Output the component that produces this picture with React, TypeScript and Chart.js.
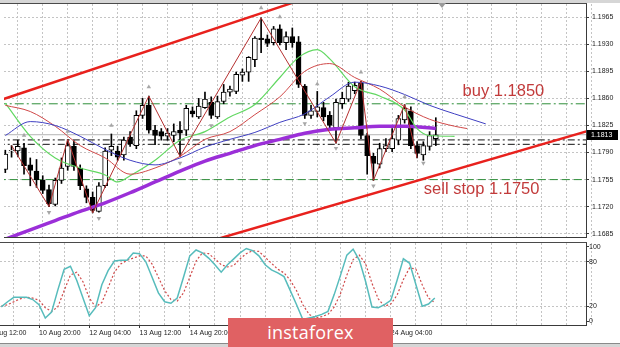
import React, { useEffect, useRef } from "react";
import { Chart, registerables } from "chart.js";

Chart.register(...registerables);

// ---------------- data (EURUSD H4) ----------------
const CANDLE_OPEN = [1.1768,1.1792,1.1792,1.1796,1.1774,1.1766,1.1754,1.1742,1.1723,1.1754,1.1772,1.1798,1.1770,1.1743,1.1732,1.1714,1.1747,1.1793,1.1792,1.1787,1.1810,1.1799,1.1838,1.1851,1.1819,1.1817,1.1811,1.1812,1.1819,1.1819,1.1844,1.1836,1.1848,1.1855,1.1836,1.1856,1.1868,1.1869,1.1890,1.1894,1.1910,1.1938,1.1937,1.1932,1.1950,1.1932,1.1940,1.1933,1.1876,1.1838,1.1843,1.1848,1.1838,1.1822,1.1853,1.1859,1.1870,1.1880,1.1812,1.1785,1.1775,1.1795,1.1795,1.1806,1.1832,1.1844,1.1799,1.1787,1.1798,1.1808];
const CANDLE_HIGH = [1.1793,1.1799,1.1806,1.1802,1.1783,1.1781,1.1760,1.1748,1.1757,1.1783,1.1807,1.1805,1.1774,1.1747,1.1739,1.1751,1.1796,1.1814,1.1798,1.1810,1.1817,1.1844,1.1860,1.1863,1.1825,1.1821,1.1821,1.1827,1.1830,1.1851,1.1849,1.1860,1.1868,1.1862,1.1863,1.1878,1.1876,1.1894,1.1898,1.1914,1.1940,1.1964,1.1942,1.1953,1.1955,1.1946,1.1951,1.1940,1.1878,1.1851,1.1869,1.1855,1.1843,1.1859,1.1868,1.1881,1.1881,1.1882,1.1815,1.1789,1.1802,1.1808,1.1821,1.1838,1.1852,1.1849,1.1804,1.1804,1.1817,1.1835];
const CANDLE_LOW = [1.1764,1.1784,1.1785,1.1762,1.1747,1.1745,1.1737,1.1720,1.1721,1.1750,1.1767,1.1767,1.1742,1.1725,1.1712,1.1713,1.1745,1.1786,1.1780,1.1780,1.1798,1.1795,1.1834,1.1815,1.1800,1.1806,1.1806,1.1804,1.1785,1.1812,1.1836,1.1834,1.1847,1.1834,1.1834,1.1853,1.1863,1.1866,1.1882,1.1882,1.1901,1.1919,1.1927,1.1929,1.1929,1.1923,1.1926,1.1874,1.1834,1.1834,1.1836,1.1831,1.1820,1.1802,1.1847,1.1856,1.1866,1.1808,1.1762,1.1754,1.1770,1.1791,1.1791,1.1800,1.1828,1.1795,1.1783,1.1780,1.1793,1.1799];
const CANDLE_CLOSE = [1.1788,1.1793,1.1798,1.1773,1.1767,1.1755,1.1741,1.1724,1.1754,1.1770,1.1799,1.1772,1.1747,1.1732,1.1715,1.1747,1.1792,1.1798,1.1784,1.1806,1.1801,1.1838,1.1851,1.1819,1.1812,1.1811,1.1815,1.1817,1.1815,1.1847,1.1840,1.1850,1.1859,1.1838,1.1856,1.1868,1.1872,1.1891,1.1894,1.1913,1.1938,1.1936,1.1931,1.1950,1.1932,1.1940,1.1932,1.1878,1.1838,1.1844,1.1849,1.1836,1.1825,1.1855,1.1860,1.1876,1.1877,1.1812,1.1786,1.1776,1.1795,1.1799,1.1808,1.1834,1.1847,1.1799,1.1789,1.1799,1.1812,1.1813];

// moving averages (bar index, price)
const MA_SLOW_IDX = [0,4,8,12,16,20,24,28,32,36,40,44,48,52,56,60,64,69];
const MA_SLOW_VAL = [1.1678,1.1690,1.1702,1.1714,1.1725,1.1738,1.1752,1.1766,1.1779,1.1789,1.1799,1.1807,1.1815,1.1820,1.1822,1.1824,1.1824,1.1821];
const JAW_IDX = [0,4,8,12,16,20,24,28,32,36,40,44,48,52,56,60,64,68,72,77];
const JAW_VAL = [1.1812,1.1830,1.1825,1.1811,1.1794,1.1780,1.1774,1.1783,1.1797,1.1807,1.1816,1.1829,1.1840,1.1862,1.1881,1.1876,1.1865,1.1851,1.1840,1.1827];
const TEETH_IDX = [0,4,8,12,16,20,24,28,32,36,40,44,48,52,56,60,64,68,72,74];
const TEETH_VAL = [1.1851,1.1843,1.1824,1.1799,1.1783,1.1762,1.1770,1.1785,1.1807,1.1817,1.1839,1.1862,1.1895,1.1905,1.1887,1.1872,1.1849,1.1833,1.1824,1.1821];
const LIPS_IDX = [0,4,8,12,16,18,20,24,28,32,36,40,44,47,50,52,56,60,64,66,68,72];
const LIPS_VAL = [1.1854,1.1811,1.1783,1.1770,1.1761,1.1752,1.1760,1.1780,1.1806,1.1817,1.1836,1.1852,1.1887,1.1913,1.1923,1.1911,1.1875,1.1863,1.1845,1.1821,1.1812,1.1811];

// zigzag
const ZIGZAG_IDX = [1,7,10,14,23,28,41,53,57,59,64,66];
const ZIGZAG_VAL = [1.1799,1.1720,1.1807,1.1712,1.1863,1.1785,1.1964,1.1802,1.1882,1.1754,1.1852,1.1783];

// fractals
const FRACTAL_UP_IDX = [3,10,17,23,41,44,50,57,64];
const FRACTAL_UP_VAL = [1.18121,1.18172,1.18249,1.18747,1.19769,1.19654,1.18785,1.18939,1.18619];
const FRACTAL_DN_IDX = [7,15,28,33,48,53,59,67];
const FRACTAL_DN_VAL = [1.17126,1.17049,1.17764,1.18249,1.18275,1.17955,1.17470,1.17764];

// channel lines
const CHANNEL_UP_IDX = [-1, 46];
const CHANNEL_UP_VAL = [1.18573, 1.19834];
const CHANNEL_DN_IDX = [34, 94];
const CHANNEL_DN_VAL = [1.16783, 1.18194];

// horizontal levels
const LEVEL_BUY = 1.1853;
const LEVEL_SELL = 1.1755;
const LEVELS_BLACK = [1.18063, 1.18006];
const CURRENT_PRICE = 1.1813;

// annotations
const NOTE_TEXT = ["buy 1.1850", "sell stop 1.1750"];
const NOTE_IDX = [73.29, 67.08];
const NOTE_PRICE = [1.18632, 1.17368];

// stochastic
const STOCH_MAIN = [19,26,32,32,32,29,22,4,12,42,70,74,55,31,7,18,49,68,81,82,82,92,91,80,59,38,26,24,31,59,88,96,92,85,76,66,76,84,92,98,95,88,76,69,65,60,41,22,2,4,6,9,13,36,62,89,97,82,53,19,18,22,28,55,84,78,49,20,23,31];
const STOCH_SIGNAL = [20,22,26,30,32,31,28,18,13,19,41,62,66,53,31,19,25,45,66,77,82,85,88,88,77,59,41,29,27,38,59,81,92,91,84,76,73,75,84,91,95,94,86,78,70,65,55,41,22,9,4,6,9,19,37,62,83,89,77,51,30,20,23,35,56,72,70,49,31,25];

// axes
const PRICE_TICKS = [1.1685,1.1720,1.1755,1.1790,1.1825,1.1860,1.1895,1.1930,1.1965];
const STOCH_TICKS = [0,20,80,100];
const TIME_TICK_IDX = [-2,6,14,22,30,38,46,54,62];
const TIME_TICK_LABELS = ["7 Aug 12:00","10 Aug 20:00","12 Aug 04:00","13 Aug 12:00","14 Aug 20:00","18 Aug 04:00","19 Aug 12:00","20 Aug 20:00","24 Aug 04:00"];

// ---------------- layout constants ----------------
const X_MIN = -0.21;
const X_MAX = 93.07;
const PRICE_MIN = 1.16808;
const PRICE_MAX = 1.1982;
const STOCH_MIN = -5.4;
const STOCH_MAX = 105.4;
const AXIS_W = 34;
const FONT = '"Liberation Sans", Arial, sans-serif';
const GRID = "#c4c4c4";
const AXIS_COLOR = "#3a3a3a";

const gridIdx = () => {
  const a: number[] = [];
  for (let i = -2; i <= 94; i += 4) a.push(i);
  return a;
};

const pts = (idx: number[], val: number[]) => idx.map((x, k) => ({ x, y: val[k] }));
const hline = (v: number) => [{ x: X_MIN - 1, y: v }, { x: X_MAX + 1, y: v }];

const noPad = (s: any) => {
  s.paddingLeft = 0;
  s.paddingRight = 0;
  s.paddingTop = 0;
  s.paddingBottom = 0;
};

const lineDs = (data: any[], color: string, width: number, order: number, extra: any = {}) => ({
  type: "line",
  data,
  borderColor: color,
  borderWidth: width,
  pointRadius: 0,
  fill: false,
  order,
  ...extra,
});

const notesPlugin = {
  id: "notes",
  afterDatasetsDraw(chart: any) {
    const { ctx, scales } = chart;
    ctx.save();
    ctx.font = `16.5px ${FONT}`;
    ctx.fillStyle = "#c23b3b";
    ctx.textBaseline = "alphabetic";
    ctx.textAlign = "left";
    NOTE_TEXT.forEach((t, k) => {
      ctx.fillText(t, scales.x.getPixelForValue(NOTE_IDX[k]), scales.y.getPixelForValue(NOTE_PRICE[k]));
    });
    ctx.restore();
  },
};

const priceTagPlugin = {
  id: "priceTag",
  afterDraw(chart: any) {
    const { ctx, scales, chartArea } = chart;
    const py = scales.y.getPixelForValue(CURRENT_PRICE);
    ctx.save();
    ctx.fillStyle = "#000";
    ctx.fillRect(chartArea.right + 1, Math.round(py) - 5, 31, 10);
    ctx.fillStyle = "#fff";
    ctx.font = `7px ${FONT}`;
    ctx.textBaseline = "middle";
    ctx.textAlign = "left";
    ctx.fillText(CURRENT_PRICE.toFixed(4), chartArea.right + 5, Math.round(py));
    ctx.restore();
  },
};

function mainConfig(): any {
  const wicks = CANDLE_LOW.map((l, i) => ({ x: i, y: [l, CANDLE_HIGH[i]] }));
  const bodies = CANDLE_OPEN.map((o, i) => ({ x: i, y: [o, CANDLE_CLOSE[i]] }));
  const bodyColors = CANDLE_OPEN.map((o, i) => (CANDLE_CLOSE[i] >= o ? "#ffffff" : "#000000"));
  return {
    type: "bar",
    data: {
      datasets: [
        lineDs(hline(LEVEL_BUY), "#2f8f3a", 1, 30, { borderDash: [9, 3, 2, 3] }),
        lineDs(hline(LEVEL_SELL), "#2f8f3a", 1, 30, { borderDash: [8, 4] }),
        lineDs(hline(LEVELS_BLACK[0]), "#111", 1, 30, { borderDash: [7, 3, 2, 3] }),
        lineDs(hline(LEVELS_BLACK[1]), "#111", 1, 30, { borderDash: [7, 3, 2, 3] }),
        lineDs(hline(CURRENT_PRICE), "#b4b4b4", 1, 29),
        {
          type: "bar",
          data: wicks,
          backgroundColor: "#000",
          borderWidth: 0,
          barThickness: 1,
          grouped: false,
          order: 20,
        },
        {
          type: "bar",
          data: bodies,
          backgroundColor: bodyColors,
          borderColor: "#000",
          borderWidth: 1,
          borderSkipped: false,
          barThickness: 5,
          grouped: false,
          order: 19,
        },
        lineDs(pts(MA_SLOW_IDX, MA_SLOW_VAL), "#9b2fd8", 3.5, 12, { cubicInterpolationMode: "monotone" }),
        lineDs(pts(JAW_IDX, JAW_VAL), "#3f3fc2", 1, 11, { cubicInterpolationMode: "monotone" }),
        lineDs(pts(TEETH_IDX, TEETH_VAL), "#d04848", 1, 11, { cubicInterpolationMode: "monotone" }),
        lineDs(pts(LIPS_IDX, LIPS_VAL), "#62d862", 1.2, 11, { cubicInterpolationMode: "monotone" }),
        lineDs(pts(ZIGZAG_IDX, ZIGZAG_VAL), "#b53030", 1, 10),
        lineDs(pts(CHANNEL_UP_IDX, CHANNEL_UP_VAL), "#e8211d", 2.5, 5),
        lineDs(pts(CHANNEL_DN_IDX, CHANNEL_DN_VAL), "#e8211d", 2.5, 5),
        {
          type: "line",
          data: pts(FRACTAL_UP_IDX, FRACTAL_UP_VAL),
          showLine: false,
          pointStyle: "triangle",
          pointRadius: 2.6,
          pointBackgroundColor: "#a6a6a6",
          pointBorderWidth: 0,
          order: 4,
        },
        {
          type: "line",
          data: pts(FRACTAL_DN_IDX, FRACTAL_DN_VAL),
          showLine: false,
          pointStyle: "triangle",
          pointRotation: 180,
          pointRadius: 2.6,
          pointBackgroundColor: "#a6a6a6",
          pointBorderWidth: 0,
          order: 4,
        },
      ],
    },
    options: {
      animation: false,
      responsive: false,
      events: [],
      layout: { padding: { top: 4, bottom: 1, left: 0, right: 0 } },
      plugins: { legend: { display: false }, tooltip: { enabled: false } },
      scales: {
        x: {
          type: "linear",
          min: X_MIN,
          max: X_MAX,
          bounds: "data",
          offset: false,
          afterBuildTicks: (s: any) => {
            s.ticks = gridIdx().map((value) => ({ value }));
          },
          afterFit: (s: any) => {
            s.height = 0;
            noPad(s);
          },
          ticks: { display: false },
          grid: { color: GRID, drawTicks: false, offset: false },
          border: { display: true, color: AXIS_COLOR, dash: [2, 2] },
        },
        y: {
          type: "linear",
          position: "right",
          min: PRICE_MIN,
          max: PRICE_MAX,
          bounds: "data",
          afterBuildTicks: (s: any) => {
            s.ticks = PRICE_TICKS.map((value) => ({ value }));
          },
          afterFit: (s: any) => {
            s.width = AXIS_W;
            noPad(s);
          },
          ticks: {
            callback: (v: any) => Number(v).toFixed(4),
            color: "#222",
            font: { family: FONT, size: 7 },
            padding: 3,
          },
          grid: { color: GRID, drawTicks: true, tickLength: 3, tickColor: AXIS_COLOR },
          border: { display: true, color: AXIS_COLOR, dash: [2, 2] },
        },
      },
    },
    plugins: [notesPlugin, priceTagPlugin],
  };
}

function stochConfig(): any {
  const labelFor = (v: number) => {
    const k = TIME_TICK_IDX.indexOf(v);
    return k >= 0 ? TIME_TICK_LABELS[k] : "";
  };
  return {
    type: "line",
    data: {
      datasets: [
        {
          data: STOCH_MAIN.map((y, x) => ({ x, y })),
          borderColor: "#57bcbc",
          borderWidth: 1.5,
          pointRadius: 0,
          fill: false,
          order: 1,
        },
        {
          data: STOCH_SIGNAL.map((y, x) => ({ x, y })),
          borderColor: "#d04a4a",
          borderWidth: 1.2,
          borderDash: [2, 2],
          pointRadius: 0,
          fill: false,
          order: 2,
        },
      ],
    },
    options: {
      animation: false,
      responsive: false,
      events: [],
      layout: { padding: { top: 2, bottom: 0, left: 0, right: 0 } },
      plugins: { legend: { display: false }, tooltip: { enabled: false } },
      scales: {
        x: {
          type: "linear",
          min: X_MIN,
          max: X_MAX,
          bounds: "data",
          offset: false,
          afterBuildTicks: (s: any) => {
            s.ticks = gridIdx().map((value) => ({ value }));
          },
          afterFit: (s: any) => {
            s.height = 22;
            noPad(s);
          },
          ticks: {
            autoSkip: false,
            maxRotation: 0,
            minRotation: 0,
            align: "start",
            padding: 1,
            color: "#222",
            font: { family: FONT, size: 7 },
            callback: (v: any) => labelFor(Number(v)),
          },
          grid: {
            color: GRID,
            offset: false,
            drawTicks: true,
            tickLength: 3,
            tickColor: (c: any) => (c.tick && TIME_TICK_IDX.includes(c.tick.value) ? AXIS_COLOR : "rgba(0,0,0,0)"),
          },
          border: { display: true, color: AXIS_COLOR, dash: [2, 2] },
        },
        y: {
          type: "linear",
          position: "right",
          min: STOCH_MIN,
          max: STOCH_MAX,
          bounds: "data",
          afterBuildTicks: (s: any) => {
            s.ticks = STOCH_TICKS.map((value) => ({ value }));
          },
          afterFit: (s: any) => {
            s.width = AXIS_W;
            noPad(s);
          },
          ticks: {
            callback: (v: any) => String(v),
            color: "#222",
            font: { family: FONT, size: 7 },
            padding: 0,
          },
          grid: {
            color: (c: any) => (c.tick && (c.tick.value === 20 || c.tick.value === 80) ? GRID : "rgba(0,0,0,0)"),
            drawTicks: true,
            tickLength: 3,
            tickColor: AXIS_COLOR,
          },
          border: { display: true, color: AXIS_COLOR, dash: [2, 2] },
        },
      },
    },
  };
}

export default function App() {
  const mainRef = useRef<HTMLCanvasElement>(null);
  const stochRef = useRef<HTMLCanvasElement>(null);

  useEffect(() => {
    const main = new Chart(mainRef.current as HTMLCanvasElement, mainConfig());
    const stoch = new Chart(stochRef.current as HTMLCanvasElement, stochConfig());
    return () => {
      main.destroy();
      stoch.destroy();
    };
  }, []);

  return (
    <div
      style={{
        position: "fixed",
        left: 0,
        top: 0,
        width: 620,
        height: 347,
        background: "#ffffff",
        overflow: "hidden",
      }}
    >
      <canvas ref={mainRef} width={620} height={241} style={{ position: "absolute", left: 0, top: 0, display: "block" }} />
      <canvas ref={stochRef} width={620} height={106} style={{ position: "absolute", left: 0, top: 241, display: "block" }} />
      {/* window frame */}
      <div style={{ position: "absolute", left: 0, top: 0, width: 620, height: 3, background: "#d6d6d6" }} />
      <div style={{ position: "absolute", left: 0, top: 3, width: 587, height: 1, background: "#4a4a4a" }} />
      <div style={{ position: "absolute", left: 0, top: 242, width: 587, height: 1, background: "#4a4a4a" }} />
      <div style={{ position: "absolute", left: 0, top: 343, width: 620, height: 4, background: "#d6d6d6", borderTop: "1px solid #8a8a8a" }} />
      <div
        style={{
          position: "absolute",
          left: 438,
          top: 3,
          width: 0,
          height: 0,
          borderLeft: "4px solid transparent",
          borderRight: "4px solid transparent",
          borderTop: "5px solid #9a9a9a",
        }}
      />
      {/* logo */}
      <div
        style={{
          position: "absolute",
          left: 228,
          top: 318,
          width: 165,
          height: 29,
          background: "#e06163",
          color: "#ffffff",
          fontFamily: '"Open Sans", "Noto Sans", sans-serif',
          fontSize: 18,
          lineHeight: "29px",
          textAlign: "center",
          letterSpacing: 0.2,
        }}
      >
        instaforex
      </div>
    </div>
  );
}
